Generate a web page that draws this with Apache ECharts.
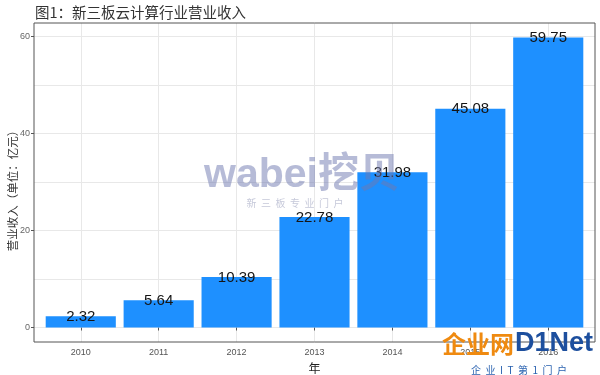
<!DOCTYPE html>
<html>
<head>
<meta charset="utf-8">
<script src="https://cdn.jsdelivr.net/npm/echarts@6/dist/echarts.min.js"></script>
<style>html,body{margin:0;padding:0;background:#fff}#c{width:600px;height:375px}</style>
</head>
<body>
<div id="c"></div>
<script>
var categories = ['2010', '2011', '2012', '2013', '2014', '2015', '2016'];
var revenue = [2.32, 5.64, 10.39, 22.78, 31.98, 45.08, 59.75];
var yTickLabels = [0, 20, 40, 60];
var yGridValues = [0, 10, 20, 30, 40, 50, 60];

var yMax = 59.75;
var pad = yMax * 0.05;
var yMin = -pad, yTop = yMax + pad;

var cjk = '"Noto Sans CJK SC", "Noto Sans", sans-serif';
var chart = echarts.init(document.getElementById('c'));
chart.setOption({
  animation: false,
  backgroundColor: '#ffffff',
  title: {
    text: '图1：新三板云计算行业营业收入',
    left: 30, top: 0,
    textStyle: { fontFamily: cjk, fontSize: 14.5, fontWeight: 'normal', color: '#333333' }
  },
  grid: [
    { left: 34, right: 5, top: 23, bottom: 33, show: true, borderColor: '#555555', borderWidth: 1, backgroundColor: 'transparent', z: 3, containLabel: false, outerBoundsMode: 'none' },
    { left: 41.8, right: 12.8, top: 23, bottom: 33, containLabel: false, outerBoundsMode: 'none' }
  ],
  xAxis: [
    { type: 'value', gridIndex: 0, min: 0, max: 1, show: false },
    {
      type: 'category', gridIndex: 1, data: categories,
      axisLine: { show: false },
      axisTick: { show: true, alignWithLabel: true, length: 3, lineStyle: { color: '#555555' } },
      splitLine: { show: true, alignWithLabel: true, lineStyle: { color: '#e8e8e8', width: 1 } },
      axisLabel: { color: '#555555', fontSize: 9, margin: 6, fontFamily: 'Liberation Sans, Arial, sans-serif' },
      name: '年', nameLocation: 'middle', nameGap: 20,
      nameTextStyle: { fontFamily: cjk, fontSize: 12, color: '#222222' }
    }
  ],
  yAxis: [
    {
      type: 'value', gridIndex: 0, min: yMin, max: yTop, position: 'left',
      axisLine: { show: false },
      axisTick: { show: false, customValues: yGridValues },
      axisLabel: { show: false },
      splitLine: { show: true, lineStyle: { color: '#e8e8e8', width: 1 } }
    },
    {
      type: 'value', gridIndex: 1, min: yMin, max: yTop,
      show: false, splitLine: { show: false }
    },
    {
      type: 'value', gridIndex: 0, min: yMin, max: yTop, position: 'left', offset: 0,
      axisLine: { show: false },
      axisTick: { show: true, length: 3, customValues: yTickLabels, lineStyle: { color: '#555555' } },
      axisLabel: { customValues: yTickLabels, color: '#666666', fontSize: 9, margin: 4, fontFamily: 'Liberation Sans, Arial, sans-serif' },
      splitLine: { show: false }
    }
  ],
  graphic: [
    { type: 'text', x: 13, y: 188, rotation: Math.PI / 2, z: 10,
      style: { text: '营业收入（单位：亿元）', font: '11.5px "Noto Sans CJK SC"', fill: '#333333', align: 'center', verticalAlign: 'middle' } },
    { type: 'text', x: 302, y: 176, z: 10,
      style: { text: 'wabei挖贝', font: 'bold 41px "Liberation Sans", "Noto Sans CJK SC"', fill: 'rgba(110,120,175,0.5)', align: 'center', verticalAlign: 'middle' } },
    { type: 'text', x: 295, y: 203, z: 10,
      style: { text: '新  三  板  专  业  门  户', font: '10px "Noto Sans CJK SC"', fill: 'rgba(150,155,185,0.55)', align: 'center', verticalAlign: 'middle' } },
    { type: 'text', x: 442, y: 344, z: 10,
      style: { text: '企业网', font: 'bold 24px "Noto Sans CJK SC"', fill: '#ef8a10', align: 'left', verticalAlign: 'middle' } },
    { type: 'text', x: 515, y: 344, z: 10,
      style: { text: 'D1Net', font: 'bold 27px "Liberation Sans"', fill: '#1d4f9e', align: 'left', verticalAlign: 'middle' } },
    { type: 'text', x: 519, y: 370, z: 10,
      style: { text: '企  业  I  T  第  1  门  户', font: '10px "Noto Sans CJK SC"', fill: '#2a62b0', align: 'center', verticalAlign: 'middle' } }
  ],
  series: [{
    type: 'bar', xAxisIndex: 1, yAxisIndex: 1, data: revenue,
    barCategoryGap: '10%',
    itemStyle: { color: '#1e90ff' },
    label: {
      show: true, position: 'top', distance: -8,
      fontSize: 15, color: '#151515', fontFamily: 'Liberation Sans, Arial, sans-serif',
      formatter: function (p) { return p.value.toFixed(2); }
    },
    z: 2
  }]
});
</script>
</body>
</html>
